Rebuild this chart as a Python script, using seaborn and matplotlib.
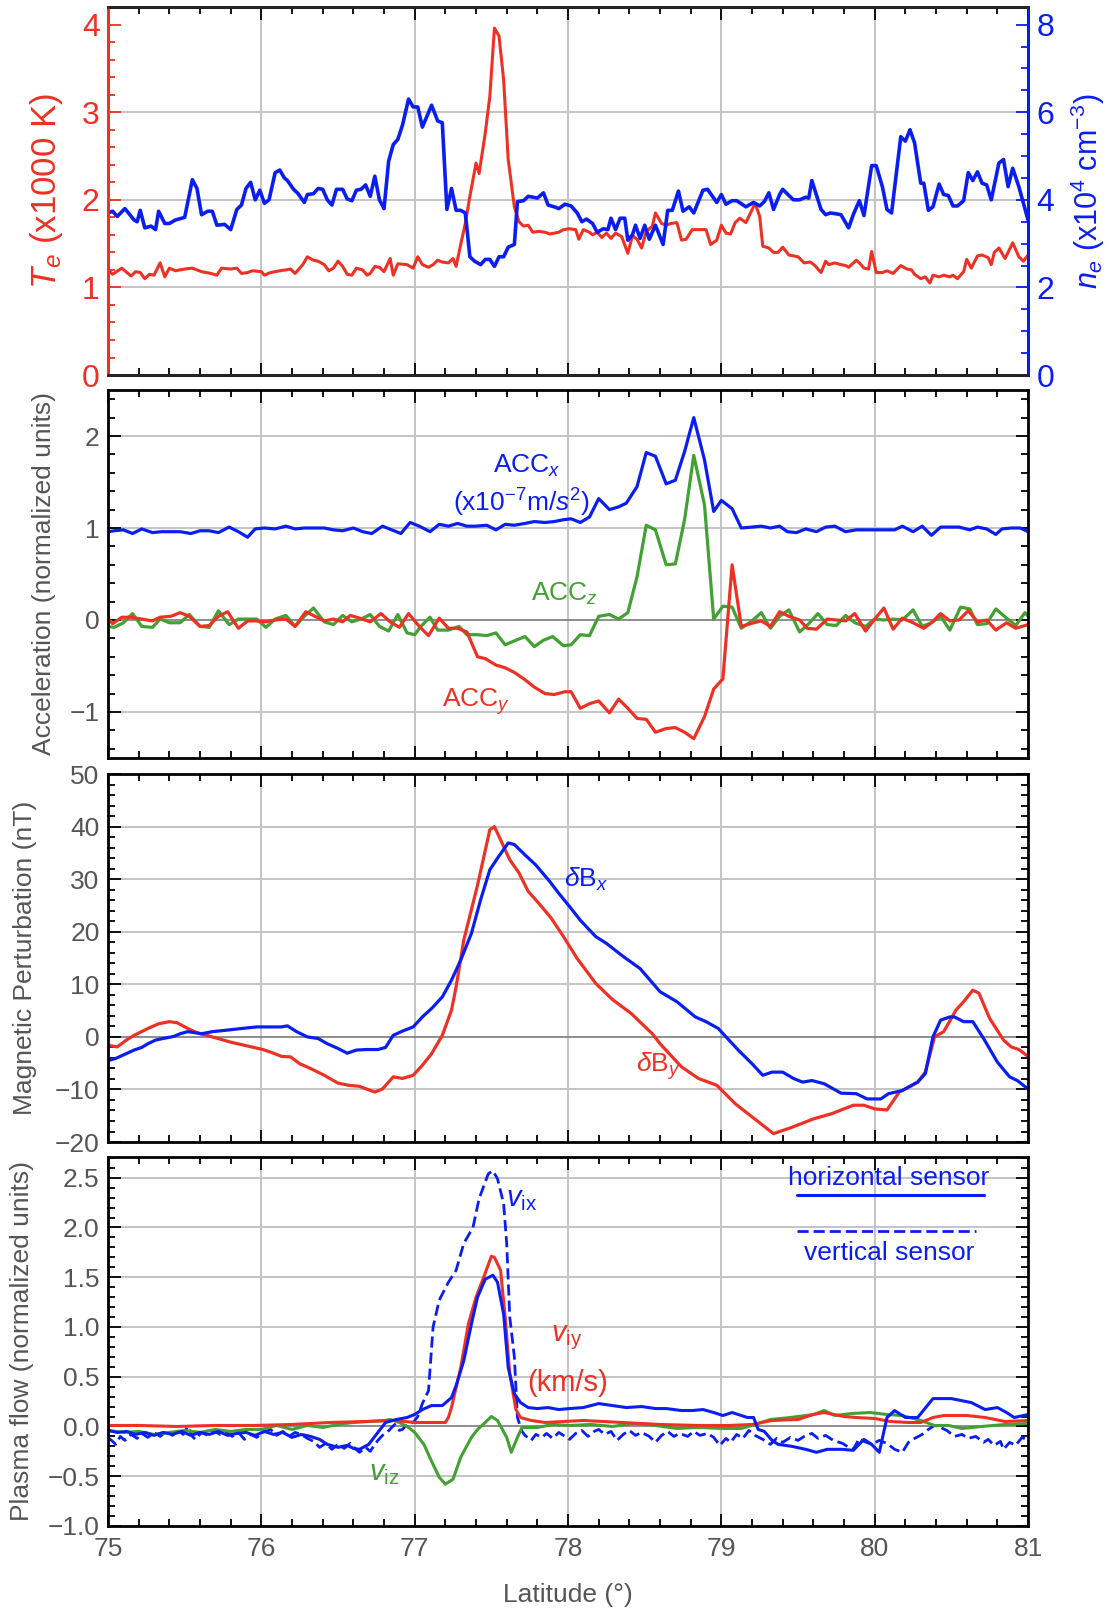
import numpy as np
import seaborn as sns
import matplotlib.pyplot as plt
from matplotlib.ticker import MultipleLocator
from matplotlib.lines import Line2D

# ---------------- data ----------------
te_lat = [75.00, 75.03, 75.09, 75.15, 75.18, 75.21, 75.24, 75.27, 75.30, 75.34, 75.37, 75.40, 75.44, 75.50,
          75.55, 75.61, 75.67, 75.71, 75.74, 75.80, 75.84, 75.87, 75.91, 75.94, 76.00, 76.02, 76.06, 76.12,
          76.16, 76.19, 76.22, 76.27, 76.30, 76.34, 76.37, 76.41, 76.44, 76.47, 76.50, 76.53, 76.56, 76.59,
          76.62, 76.66, 76.69, 76.71, 76.74, 76.77, 76.80, 76.84, 76.86, 76.89, 76.95, 76.99, 77.02, 77.05,
          77.09, 77.12, 77.15, 77.18, 77.22, 77.25, 77.27, 77.30, 77.33, 77.36, 77.40, 77.42, 77.46, 77.49,
          77.52, 77.55, 77.58, 77.61, 77.65, 77.68, 77.71, 77.74, 77.77, 77.81, 77.85, 77.88, 77.94, 77.97,
          78.01, 78.05, 78.07, 78.10, 78.14, 78.16, 78.19, 78.22, 78.25, 78.28, 78.31, 78.35, 78.39, 78.42,
          78.45, 78.48, 78.51, 78.55, 78.57, 78.61, 78.64, 78.67, 78.71, 78.74, 78.77, 78.81, 78.84, 78.90,
          78.93, 78.97, 79.00, 79.03, 79.06, 79.09, 79.12, 79.16, 79.22, 79.25, 79.27, 79.31, 79.34, 79.37,
          79.40, 79.44, 79.47, 79.50, 79.54, 79.58, 79.61, 79.65, 79.68, 79.70, 79.74, 79.78, 79.81, 79.83,
          79.88, 79.90, 79.93, 79.96, 79.98, 80.01, 80.05, 80.08, 80.12, 80.17, 80.21, 80.24, 80.26, 80.30,
          80.33, 80.36, 80.38, 80.42, 80.45, 80.49, 80.51, 80.54, 80.58, 80.60, 80.63, 80.67, 80.70, 80.74,
          80.76, 80.78, 80.81, 80.85, 80.90, 80.94, 80.97, 81.00]
te_val = [1.20, 1.15, 1.22, 1.13, 1.18, 1.17, 1.10, 1.15, 1.14, 1.28, 1.12, 1.22, 1.19, 1.21,
          1.22, 1.18, 1.16, 1.14, 1.22, 1.21, 1.22, 1.16, 1.17, 1.19, 1.18, 1.14, 1.17, 1.19,
          1.20, 1.21, 1.16, 1.26, 1.35, 1.31, 1.30, 1.26, 1.19, 1.22, 1.30, 1.24, 1.15, 1.14,
          1.22, 1.20, 1.14, 1.16, 1.24, 1.23, 1.18, 1.33, 1.14, 1.27, 1.26, 1.22, 1.35, 1.26,
          1.23, 1.26, 1.31, 1.29, 1.28, 1.33, 1.24, 1.49, 1.73, 2.04, 2.42, 2.30, 2.76, 3.18,
          3.96, 3.87, 3.37, 2.46, 1.92, 1.75, 1.70, 1.71, 1.63, 1.64, 1.63, 1.61, 1.63, 1.66,
          1.67, 1.66, 1.55, 1.66, 1.63, 1.60, 1.63, 1.57, 1.62, 1.56, 1.62, 1.58, 1.39, 1.59,
          1.55, 1.45, 1.64, 1.70, 1.85, 1.73, 1.71, 1.73, 1.74, 1.54, 1.55, 1.66, 1.66, 1.66,
          1.49, 1.54, 1.71, 1.62, 1.61, 1.74, 1.79, 1.74, 1.96, 1.81, 1.47, 1.45, 1.40, 1.40,
          1.46, 1.37, 1.36, 1.35, 1.28, 1.29, 1.25, 1.17, 1.30, 1.26, 1.28, 1.26, 1.25, 1.23,
          1.31, 1.28, 1.22, 1.21, 1.41, 1.17, 1.17, 1.19, 1.16, 1.25, 1.21, 1.20, 1.15, 1.10,
          1.12, 1.05, 1.14, 1.12, 1.14, 1.12, 1.14, 1.10, 1.18, 1.32, 1.22, 1.36, 1.37, 1.34,
          1.26, 1.40, 1.45, 1.33, 1.51, 1.35, 1.30, 1.37]

ne_lat = [75.00, 75.03, 75.06, 75.11, 75.17, 75.19, 75.21, 75.24, 75.28, 75.31, 75.33, 75.37, 75.40, 75.44,
          75.50, 75.55, 75.58, 75.61, 75.65, 75.68, 75.71, 75.76, 75.80, 75.84, 75.87, 75.90, 75.93, 75.96,
          75.99, 76.02, 76.05, 76.09, 76.12, 76.15, 76.17, 76.21, 76.24, 76.28, 76.30, 76.34, 76.37, 76.40,
          76.43, 76.46, 76.49, 76.53, 76.56, 76.59, 76.62, 76.65, 76.68, 76.71, 76.74, 76.77, 76.80, 76.83,
          76.86, 76.89, 76.92, 76.96, 76.99, 77.02, 77.05, 77.11, 77.15, 77.18, 77.21, 77.24, 77.27, 77.30,
          77.33, 77.36, 77.39, 77.43, 77.46, 77.49, 77.52, 77.55, 77.58, 77.61, 77.65, 77.67, 77.71, 77.74,
          77.77, 77.80, 77.84, 77.87, 77.91, 77.94, 77.98, 78.02, 78.06, 78.09, 78.12, 78.16, 78.19, 78.23,
          78.26, 78.28, 78.31, 78.34, 78.37, 78.39, 78.42, 78.44, 78.47, 78.50, 78.53, 78.57, 78.60, 78.62,
          78.65, 78.68, 78.72, 78.75, 78.79, 78.82, 78.88, 78.91, 78.97, 79.00, 79.03, 79.07, 79.10, 79.16,
          79.21, 79.25, 79.28, 79.31, 79.34, 79.38, 79.40, 79.44, 79.47, 79.51, 79.55, 79.57, 79.59, 79.65,
          79.68, 79.71, 79.75, 79.78, 79.83, 79.86, 79.90, 79.93, 79.98, 80.01, 80.05, 80.08, 80.11, 80.17,
          80.20, 80.23, 80.26, 80.30, 80.32, 80.35, 80.38, 80.42, 80.45, 80.48, 80.51, 80.54, 80.58, 80.61,
          80.64, 80.67, 80.70, 80.73, 80.76, 80.81, 80.84, 80.87, 80.90, 80.94, 81.00]
ne_val = [3.70, 3.74, 3.62, 3.80, 3.54, 3.50, 3.76, 3.36, 3.40, 3.32, 3.74, 3.46, 3.46, 3.54,
          3.60, 4.46, 4.26, 3.66, 3.74, 3.74, 3.42, 3.44, 3.32, 3.78, 3.88, 4.26, 4.40, 4.00,
          4.22, 3.92, 4.00, 4.62, 4.68, 4.50, 4.44, 4.24, 4.14, 3.94, 4.12, 4.14, 4.26, 4.24,
          4.00, 3.88, 4.24, 4.24, 4.02, 3.98, 4.22, 4.24, 4.34, 4.08, 4.54, 4.00, 3.80, 4.88,
          5.26, 5.38, 5.70, 6.30, 6.12, 6.12, 5.66, 6.16, 5.80, 5.76, 3.78, 4.26, 3.76, 3.76,
          3.70, 2.70, 2.60, 2.52, 2.64, 2.64, 2.48, 2.70, 2.70, 2.92, 2.98, 3.96, 3.98, 4.08,
          4.06, 4.04, 4.16, 3.88, 3.84, 3.80, 3.90, 3.86, 3.70, 3.50, 3.56, 3.46, 3.26, 3.34,
          3.32, 3.58, 3.32, 3.58, 3.58, 3.08, 3.20, 3.42, 3.12, 3.42, 3.10, 3.42, 3.16, 2.98,
          3.76, 3.76, 4.20, 3.74, 3.84, 3.70, 4.22, 4.24, 3.94, 4.12, 3.90, 3.98, 3.98, 3.84,
          3.94, 3.86, 3.96, 4.16, 3.78, 4.12, 4.24, 4.10, 4.00, 4.00, 4.06, 4.04, 4.44, 3.78,
          3.66, 3.70, 3.68, 3.66, 3.36, 3.66, 3.98, 3.64, 4.78, 4.78, 4.30, 3.78, 3.70, 5.44,
          5.34, 5.60, 5.30, 4.38, 4.38, 3.76, 3.84, 4.36, 4.12, 4.10, 3.86, 3.86, 3.98, 4.62,
          4.44, 4.64, 4.38, 4.34, 4.00, 4.84, 4.92, 4.30, 4.72, 4.30, 3.54]

accx_lat = [75.00, 75.04, 75.10, 75.16, 75.22, 75.29, 75.35, 75.42, 75.47, 75.54, 75.60, 75.66, 75.72, 75.79,
            75.85, 75.91, 75.96, 76.02, 76.09, 76.16, 76.22, 76.28, 76.34, 76.41, 76.47, 76.53, 76.60, 76.66,
            76.72, 76.79, 76.85, 76.91, 76.97, 77.03, 77.10, 77.16, 77.22, 77.28, 77.34, 77.40, 77.47, 77.53,
            77.59, 77.65, 77.72, 77.78, 77.85, 77.91, 77.97, 78.02, 78.08, 78.14, 78.20, 78.27, 78.33, 78.38,
            78.45, 78.51, 78.57, 78.64, 78.70, 78.76, 78.82, 78.89, 78.95, 79.00, 79.07, 79.13, 79.20, 79.26,
            79.32, 79.38, 79.43, 79.49, 79.55, 79.62, 79.68, 79.74, 79.81, 79.88, 79.94, 80.00, 80.06, 80.13,
            80.18, 80.25, 80.31, 80.37, 80.43, 80.49, 80.55, 80.62, 80.67, 80.73, 80.79, 80.83, 80.89, 80.95,
            81.00]
accx_val = [0.96, 0.97, 0.98, 0.94, 0.99, 0.95, 0.96, 0.96, 0.96, 0.94, 0.97, 0.97, 0.95, 1.01,
            0.96, 0.90, 0.99, 1.00, 0.99, 1.02, 0.99, 1.00, 1.00, 1.00, 0.98, 0.97, 1.00, 0.96,
            0.94, 1.02, 0.98, 0.94, 1.06, 1.02, 0.96, 1.04, 1.02, 1.05, 1.02, 1.02, 1.03, 0.98,
            1.04, 1.03, 1.05, 1.07, 1.06, 1.07, 1.09, 1.10, 1.06, 1.12, 1.32, 1.20, 1.23, 1.27,
            1.45, 1.82, 1.78, 1.48, 1.52, 1.83, 2.20, 1.74, 1.18, 1.30, 1.21, 1.00, 1.01, 1.02,
            1.00, 1.02, 0.96, 0.95, 0.99, 0.96, 1.01, 1.02, 0.96, 0.98, 0.98, 0.98, 0.98, 0.98,
            1.02, 0.96, 1.02, 0.92, 1.01, 1.01, 1.01, 0.98, 1.01, 0.99, 0.93, 0.99, 1.00, 1.00,
            0.96]

accz_lat = [75.00, 75.04, 75.10, 75.16, 75.22, 75.29, 75.34, 75.40, 75.47, 75.53, 75.60, 75.66, 75.72, 75.79,
            75.85, 75.92, 75.97, 76.03, 76.09, 76.16, 76.22, 76.28, 76.34, 76.41, 76.47, 76.53, 76.59, 76.65,
            76.71, 76.77, 76.83, 76.89, 76.95, 77.00, 77.04, 77.10, 77.15, 77.22, 77.29, 77.34, 77.41, 77.47,
            77.53, 77.59, 77.66, 77.72, 77.78, 77.84, 77.90, 77.97, 78.02, 78.08, 78.14, 78.20, 78.27, 78.33,
            78.39, 78.45, 78.51, 78.57, 78.64, 78.70, 78.76, 78.82, 78.89, 78.95, 79.01, 79.07, 79.13, 79.20,
            79.26, 79.32, 79.38, 79.44, 79.51, 79.57, 79.63, 79.69, 79.75, 79.81, 79.87, 79.94, 80.00, 80.06,
            80.12, 80.18, 80.25, 80.31, 80.37, 80.43, 80.49, 80.56, 80.62, 80.67, 80.73, 80.79, 80.86, 80.92,
            80.98, 81.00]
accz_val = [-0.07, -0.08, -0.03, 0.07, -0.07, -0.08, 0.01, -0.03, -0.03, 0.06, -0.07, -0.08, 0.10, -0.05,
            0.01, 0.01, 0.01, -0.08, 0.01, 0.05, -0.07, 0.04, 0.13, -0.02, -0.05, 0.05, -0.02, 0.01,
            0.06, -0.07, -0.12, 0.06, -0.14, -0.16, -0.07, 0.03, -0.11, -0.11, -0.07, -0.16, -0.16, -0.17,
            -0.14, -0.27, -0.22, -0.18, -0.29, -0.22, -0.18, -0.28, -0.27, -0.16, -0.17, 0.04, 0.06, 0.01,
            0.08, 0.47, 1.03, 0.98, 0.60, 0.61, 1.09, 1.79, 1.25, 0.01, 0.15, 0.14, -0.09, -0.01,
            0.08, -0.09, 0.04, 0.11, -0.13, -0.04, 0.07, -0.05, -0.06, 0.05, -0.03, -0.07, 0.01, 0.00,
            0.01, 0.00, 0.11, -0.07, -0.03, 0.04, -0.11, 0.14, 0.12, -0.05, -0.04, 0.12, 0.02, -0.06,
            0.08, 0.04]

accy_lat = [75.00, 75.03, 75.09, 75.15, 75.22, 75.29, 75.34, 75.41, 75.47, 75.53, 75.60, 75.66, 75.72, 75.78,
            75.85, 75.91, 75.96, 76.03, 76.09, 76.16, 76.22, 76.29, 76.35, 76.41, 76.47, 76.53, 76.58, 76.64,
            76.71, 76.78, 76.84, 76.90, 76.96, 77.03, 77.09, 77.16, 77.22, 77.28, 77.34, 77.41, 77.46, 77.53,
            77.59, 77.65, 77.72, 77.78, 77.85, 77.91, 77.98, 78.02, 78.08, 78.14, 78.20, 78.27, 78.33, 78.39,
            78.45, 78.51, 78.57, 78.64, 78.70, 78.76, 78.82, 78.89, 78.95, 79.01, 79.07, 79.13, 79.19, 79.26,
            79.32, 79.38, 79.44, 79.51, 79.56, 79.62, 79.69, 79.75, 79.81, 79.87, 79.94, 80.00, 80.06, 80.12,
            80.18, 80.25, 80.32, 80.37, 80.43, 80.49, 80.55, 80.61, 80.67, 80.73, 80.79, 80.86, 80.92, 81.00]
accy_val = [0.02, -0.04, 0.03, 0.03, 0.01, -0.01, 0.03, 0.04, 0.08, 0.04, -0.07, -0.06, 0.04, 0.09,
            -0.09, -0.01, -0.01, -0.02, 0.00, 0.01, -0.07, 0.09, 0.04, -0.01, 0.01, -0.02, 0.05, 0.02,
            -0.02, 0.07, -0.02, -0.08, 0.07, -0.07, -0.17, 0.02, -0.09, -0.09, -0.13, -0.40, -0.42, -0.49,
            -0.52, -0.57, -0.65, -0.73, -0.80, -0.81, -0.78, -0.78, -0.96, -0.91, -0.88, -1.01, -0.86, -0.96,
            -1.07, -1.08, -1.22, -1.18, -1.17, -1.22, -1.29, -1.05, -0.75, -0.64, 0.60, -0.07, -0.04, -0.01,
            -0.07, 0.09, 0.04, 0.00, -0.09, -0.10, 0.01, 0.00, -0.01, 0.07, -0.12, 0.01, 0.13, -0.10,
            0.02, -0.03, -0.09, -0.03, 0.07, -0.01, 0.00, 0.10, -0.02, 0.00, -0.11, -0.03, -0.09, -0.05]

bx_lat = [75.00, 75.05, 75.11, 75.17, 75.22, 75.26, 75.31, 75.36, 75.43, 75.47, 75.52, 75.61, 75.68, 75.78,
          75.87, 75.97, 76.06, 76.13, 76.17, 76.23, 76.30, 76.37, 76.43, 76.50, 76.56, 76.62, 76.69, 76.76,
          76.81, 76.86, 76.92, 76.99, 77.05, 77.11, 77.18, 77.24, 77.30, 77.37, 77.43, 77.49, 77.54, 77.61,
          77.65, 77.72, 77.79, 77.88, 77.94, 78.01, 78.08, 78.18, 78.25, 78.36, 78.47, 78.60, 78.71, 78.83,
          78.90, 78.98, 79.04, 79.11, 79.20, 79.27, 79.33, 79.40, 79.47, 79.53, 79.59, 79.67, 79.78, 79.88,
          79.95, 80.04, 80.09, 80.18, 80.28, 80.33, 80.38, 80.43, 80.49, 80.52, 80.58, 80.64, 80.71, 80.80,
          80.88, 80.93, 81.00]
bx_val = [-4.5, -4.1, -3.3, -2.5, -2.0, -1.3, -0.6, -0.3, 0.1, 0.6, 1.0, 0.6, 1.0, 1.3,
          1.6, 1.9, 1.9, 1.9, 2.1, 1.0, 0.0, -0.3, -1.3, -2.2, -3.1, -2.5, -2.4, -2.4,
          -2.0, 0.3, 1.1, 1.9, 3.8, 5.4, 7.6, 10.8, 14.6, 19.7, 26.1, 31.8, 34.0, 36.9,
          36.6, 34.6, 32.7, 29.6, 27.3, 24.8, 22.2, 19.1, 17.8, 15.3, 13.0, 8.6, 6.7, 3.8,
          2.9, 1.6, -0.3, -2.5, -5.1, -7.3, -6.7, -6.7, -7.9, -8.6, -8.3, -8.9, -10.7, -10.8,
          -11.8, -11.8, -10.8, -10.2, -8.6, -7.0, 0.0, 3.2, 3.8, 3.8, 2.9, 2.9, -0.3, -4.8,
          -7.6, -8.3, -9.9]

by_lat = [75.00, 75.06, 75.12, 75.17, 75.26, 75.33, 75.40, 75.45, 75.52, 75.58, 75.68, 75.80, 75.92, 76.01,
          76.08, 76.13, 76.19, 76.25, 76.32, 76.41, 76.50, 76.57, 76.64, 76.74, 76.79, 76.86, 76.92, 76.99,
          77.05, 77.11, 77.18, 77.24, 77.27, 77.32, 77.41, 77.49, 77.52, 77.56, 77.62, 77.68, 77.74, 77.81,
          77.89, 77.97, 78.06, 78.18, 78.29, 78.41, 78.55, 78.60, 78.74, 78.85, 78.97, 79.09, 79.23, 79.34,
          79.46, 79.60, 79.72, 79.86, 79.93, 80.00, 80.08, 80.16, 80.28, 80.33, 80.39, 80.45, 80.53, 80.58,
          80.64, 80.68, 80.75, 80.84, 80.89, 80.94, 81.00]
by_val = [-1.6, -1.9, -0.6, 0.3, 1.6, 2.5, 2.9, 2.7, 1.6, 0.8, 0.0, -1.0, -1.8, -2.4,
          -3.1, -3.7, -3.8, -5.1, -6.0, -7.3, -8.8, -9.2, -9.4, -10.5, -9.9, -7.6, -7.9, -7.3,
          -5.4, -3.2, 0.3, 5.1, 9.5, 18.4, 28.9, 39.4, 40.0, 37.5, 33.7, 31.2, 27.7, 25.4,
          22.6, 19.1, 14.9, 10.2, 7.1, 4.5, 0.6, -1.3, -5.7, -7.9, -9.2, -12.7, -15.9, -18.4,
          -17.2, -15.6, -14.6, -13.0, -13.0, -13.7, -13.9, -10.5, -8.6, -6.7, 0.0, 1.0, 5.1, 6.7,
          8.9, 8.3, 3.5, -0.6, -1.9, -2.4, -3.7]

vix_h_lat = [75.00, 75.06, 75.12, 75.18, 75.24, 75.30, 75.36, 75.42, 75.48, 75.54, 75.60, 75.66, 75.72, 75.78,
             75.84, 75.90, 75.96, 76.02, 76.08, 76.14, 76.20, 76.26, 76.32, 76.38, 76.43, 76.50, 76.56, 76.60,
             76.64, 76.70, 76.75, 76.81, 76.88, 76.95, 77.00, 77.05, 77.11, 77.18, 77.24, 77.27, 77.32, 77.37,
             77.41, 77.46, 77.51, 77.54, 77.58, 77.61, 77.65, 77.69, 77.74, 77.80, 77.87, 77.94, 78.01, 78.10,
             78.20, 78.29, 78.38, 78.48, 78.57, 78.64, 78.74, 78.81, 78.88, 78.95, 79.01, 79.07, 79.13, 79.17,
             79.21, 79.24, 79.28, 79.33, 79.37, 79.46, 79.55, 79.62, 79.69, 79.79, 79.86, 79.93, 79.98, 80.03,
             80.08, 80.13, 80.20, 80.28, 80.38, 80.50, 80.63, 80.72, 80.80, 80.86, 80.91, 81.00]
vix_h_val = [-0.04, -0.06, -0.05, -0.08, -0.06, -0.09, -0.06, -0.08, -0.05, -0.09, -0.06, -0.08, -0.05, -0.09,
             -0.07, -0.06, -0.09, -0.05, -0.08, -0.06, -0.11, -0.08, -0.10, -0.13, -0.18, -0.21, -0.19, -0.22,
             -0.23, -0.18, -0.08, 0.04, 0.07, 0.09, 0.12, 0.17, 0.21, 0.21, 0.29, 0.41, 0.66, 1.03,
             1.30, 1.48, 1.52, 1.45, 1.13, 0.59, 0.33, 0.24, 0.19, 0.18, 0.19, 0.17, 0.18, 0.19,
             0.23, 0.21, 0.19, 0.20, 0.18, 0.18, 0.16, 0.16, 0.17, 0.14, 0.11, 0.14, 0.11, 0.09,
             0.09, -0.03, -0.05, -0.14, -0.18, -0.20, -0.23, -0.26, -0.23, -0.23, -0.24, -0.13, -0.18, -0.26,
             0.09, 0.16, 0.09, 0.09, 0.28, 0.28, 0.24, 0.17, 0.19, 0.14, 0.09, 0.12]

vix_v_lat = [75.00, 75.03, 75.05, 75.08, 75.11, 75.15, 75.19, 75.22, 75.26, 75.30, 75.34, 75.38, 75.42, 75.46,
             75.49, 75.52, 75.55, 75.57, 75.61, 75.65, 75.69, 75.73, 75.77, 75.81, 75.85, 75.89, 75.93, 75.97,
             76.01, 76.06, 76.10, 76.14, 76.18, 76.22, 76.26, 76.30, 76.34, 76.38, 76.42, 76.46, 76.50, 76.54,
             76.58, 76.61, 76.64, 76.68, 76.71, 76.74, 76.76, 76.79, 76.82, 76.85, 76.87, 76.90, 76.92, 76.95,
             76.99, 77.02, 77.05, 77.09, 77.12, 77.16, 77.22, 77.27, 77.32, 77.38, 77.42, 77.48, 77.51, 77.54,
             77.58, 77.60, 77.62, 77.65, 77.67, 77.70, 77.72, 77.76, 77.79, 77.83, 77.86, 77.90, 77.94, 77.97,
             78.01, 78.05, 78.09, 78.13, 78.17, 78.20, 78.24, 78.28, 78.32, 78.36, 78.40, 78.44, 78.48, 78.53,
             78.57, 78.61, 78.65, 78.69, 78.73, 78.78, 78.82, 78.86, 78.91, 78.95, 78.99, 79.03, 79.06, 79.10,
             79.14, 79.18, 79.22, 79.27, 79.32, 79.36, 79.40, 79.45, 79.50, 79.54, 79.59, 79.63, 79.68, 79.73,
             79.79, 79.83, 79.86, 79.90, 79.93, 79.98, 80.03, 80.08, 80.13, 80.18, 80.22, 80.26, 80.31, 80.35,
             80.39, 80.43, 80.47, 80.52, 80.57, 80.61, 80.66, 80.71, 80.74, 80.78, 80.82, 80.84, 80.88, 80.92,
             80.96, 81.00]
vix_v_val = [-0.11, -0.15, -0.18, -0.10, -0.14, -0.08, -0.12, -0.07, -0.11, -0.06, -0.10, -0.05, -0.09, -0.04,
             -0.08, 0.00, -0.10, -0.13, -0.06, -0.09, -0.04, -0.08, -0.05, -0.10, -0.06, -0.13, -0.08, -0.11,
             -0.06, -0.03, -0.09, -0.05, -0.10, -0.06, -0.08, -0.12, -0.15, -0.21, -0.17, -0.23, -0.18, -0.22,
             -0.17, -0.22, -0.26, -0.21, -0.25, -0.18, -0.14, -0.09, -0.06, -0.01, 0.02, -0.04, -0.03, 0.02,
             0.04, 0.10, 0.23, 0.36, 1.00, 1.27, 1.45, 1.57, 1.84, 2.00, 2.29, 2.54, 2.57, 2.49,
             2.24, 1.84, 1.10, 0.70, 0.09, -0.05, -0.09, -0.14, -0.08, -0.11, -0.07, -0.12, -0.06, -0.09,
             -0.13, -0.07, -0.04, -0.10, -0.05, -0.03, -0.08, -0.05, -0.14, -0.08, -0.04, -0.09, -0.06, -0.10,
             -0.16, -0.09, -0.05, -0.10, -0.07, -0.10, -0.05, -0.09, -0.07, -0.11, -0.19, -0.12, -0.16, -0.08,
             -0.12, -0.04, -0.09, -0.13, -0.18, -0.12, -0.16, -0.11, -0.14, -0.10, -0.07, -0.12, -0.09, -0.14,
             -0.17, -0.21, -0.23, -0.12, -0.15, -0.18, -0.14, -0.17, -0.23, -0.26, -0.16, -0.12, -0.08, -0.03,
             0.01, -0.01, -0.04, -0.10, -0.08, -0.12, -0.10, -0.16, -0.13, -0.19, -0.15, -0.23, -0.16, -0.19,
             -0.11, -0.14]

viy_lat = [75.00, 75.20, 75.45, 75.70, 75.95, 76.20, 76.45, 76.68, 76.87, 77.00, 77.12, 77.20, 77.22, 77.24,
           77.30, 77.35, 77.40, 77.45, 77.50, 77.52, 77.56, 77.59, 77.62, 77.66, 77.69, 77.76, 77.85, 78.10,
           78.35, 78.60, 78.85, 79.05, 79.20, 79.33, 79.50, 79.60, 79.67, 79.80, 79.88, 80.00, 80.10, 80.22,
           80.30, 80.38, 80.45, 80.60, 80.72, 80.85, 81.00]
viy_val = [0.01, 0.01, 0.00, 0.01, 0.01, 0.02, 0.04, 0.05, 0.06, 0.04, 0.04, 0.04, 0.09, 0.19,
           0.59, 1.03, 1.30, 1.50, 1.71, 1.70, 1.57, 1.10, 0.53, 0.17, 0.09, 0.06, 0.04, 0.06,
           0.04, 0.02, 0.01, 0.01, 0.02, 0.06, 0.07, 0.12, 0.14, 0.10, 0.09, 0.08, 0.05, 0.04,
           0.04, 0.09, 0.11, 0.11, 0.09, 0.05, 0.06]

viz_lat = [75.00, 75.10, 75.20, 75.30, 75.40, 75.50, 75.60, 75.70, 75.80, 75.90, 76.00, 76.10, 76.20, 76.30,
           76.40, 76.50, 76.60, 76.70, 76.80, 76.84, 76.90, 76.96, 77.00, 77.06, 77.11, 77.16, 77.20, 77.25,
           77.30, 77.37, 77.41, 77.46, 77.50, 77.54, 77.60, 77.63, 77.67, 77.70, 77.80, 77.90, 78.01, 78.15,
           78.29, 78.43, 78.57, 78.71, 78.85, 79.00, 79.13, 79.22, 79.32, 79.45, 79.60, 79.67, 79.74, 79.85,
           79.97, 80.08, 80.18, 80.30, 80.39, 80.48, 80.57, 80.70, 80.85, 81.00]
viz_val = [-0.04, -0.06, -0.05, -0.08, -0.06, -0.04, -0.06, -0.03, -0.05, -0.03, -0.03, 0.01, -0.03, 0.01,
           -0.01, 0.02, 0.04, 0.05, 0.06, 0.07, 0.04, -0.01, -0.06, -0.18, -0.35, -0.51, -0.58, -0.53,
           -0.31, -0.11, -0.03, 0.04, 0.10, 0.06, -0.11, -0.26, -0.11, -0.01, -0.01, 0.02, 0.01, 0.02,
           0.00, 0.03, 0.01, -0.02, -0.01, -0.02, -0.02, 0.02, 0.07, 0.09, 0.12, 0.16, 0.11, 0.13,
           0.14, 0.12, 0.11, 0.06, 0.01, 0.01, -0.02, 0.00, 0.02, 0.03]

lat_ticks = [75, 76, 77, 78, 79, 80, 81]

# ---------------- style ----------------
RED = '#ee3124'
BLUE = '#0a1ef2'
GREEN = '#42a132'
GRID = '#c4c4c4'
ZERO = '#7a7a7a'
TXT = '#555555'

sns.set_style("ticks")
plt.rcParams['font.family'] = ['Liberation Sans', 'DejaVu Sans']
plt.rcParams['mathtext.fontset'] = 'custom'
plt.rcParams['mathtext.rm'] = 'Liberation Sans'
plt.rcParams['mathtext.it'] = 'Liberation Sans:italic'
plt.rcParams['mathtext.bf'] = 'Liberation Sans:bold'

fig = plt.figure(figsize=(11.09, 16.11), dpi=100)
L, W = 0.0974, 0.8296
ax1 = fig.add_axes([L, 0.7672, W, 0.2284])
ax2 = fig.add_axes([L, 0.5295, W, 0.2284])
ax3 = fig.add_axes([L, 0.2911, W, 0.2284])
ax4 = fig.add_axes([L, 0.0528, W, 0.2291])


def frame(ax, ylo, yhi, ymaj, ymin, hgrid, zero=True, fs=19):
    ax.set_xlim(75, 81)
    ax.set_ylim(ylo, yhi)
    ax.xaxis.set_major_locator(MultipleLocator(1))
    ax.xaxis.set_minor_locator(MultipleLocator(0.2))
    ax.yaxis.set_major_locator(MultipleLocator(ymaj))
    ax.yaxis.set_minor_locator(MultipleLocator(ymin))
    ax.tick_params(which='both', direction='in', top=True, right=True, color='black', width=1.3)
    ax.tick_params(which='major', length=9, labelsize=fs, labelcolor=TXT, pad=6)
    ax.tick_params(which='minor', length=5)
    ax.tick_params(axis='x', labelbottom=False)
    for s in ax.spines.values():
        s.set_linewidth(2)
        s.set_color('black')
    for g in lat_ticks[1:-1]:
        ax.axvline(g, color=GRID, lw=1.4, zorder=0)
    for g in hgrid:
        ax.axhline(g, color=GRID, lw=1.4, zorder=0)
    if zero:
        ax.axhline(0, color=ZERO, lw=1.2, zorder=0.5)


# ---- panel 1: Te and ne ----
frame(ax1, 0, 4.2, 1, 0.2, [1, 2, 3], zero=False, fs=23)
ax1.tick_params(which='both', right=False)
ax1.tick_params(axis='y', which='both', color=RED, labelcolor=RED)
ax1.spines['left'].set_color(RED)
ax1r = ax1.twinx()
ax1r.set_ylim(0, 8.4)
ax1r.yaxis.set_major_locator(MultipleLocator(2))
ax1r.yaxis.set_minor_locator(MultipleLocator(0.5))
ax1r.tick_params(which='both', direction='in', color=BLUE, width=1.3)
ax1r.tick_params(which='major', length=9, labelsize=23, labelcolor=BLUE, pad=6)
ax1r.tick_params(which='minor', length=5)
for k, s in ax1r.spines.items():
    s.set_linewidth(2)
ax1r.spines['right'].set_color(BLUE)
ax1r.spines['left'].set_color(RED)

sns.lineplot(x=te_lat, y=te_val, ax=ax1, color=RED, linewidth=2.2, estimator=None, sort=False, zorder=3)
sns.lineplot(x=ne_lat, y=ne_val, ax=ax1r, color=BLUE, linewidth=2.6, estimator=None, sort=False)
ax1.set_ylabel(r'$T_e$ (x1000 K)', color=RED, fontsize=25)
ax1.yaxis.set_label_coords(-0.047, 0.5)
ax1r.set_ylabel(r'$n_e$ (x10$^4$ cm$^{-3}$)', color=BLUE, fontsize=22, rotation=90)
ax1r.yaxis.set_label_coords(1.044, 0.5)
ax1.set_xlabel('')

# ---- panel 2: acceleration ----
frame(ax2, -1.5, 2.5, 1, 0.2, [-1, 1, 2])
sns.lineplot(x=accz_lat, y=accz_val, ax=ax2, color=GREEN, linewidth=2.3, estimator=None, sort=False)
sns.lineplot(x=accy_lat, y=accy_val, ax=ax2, color=RED, linewidth=2.3, estimator=None, sort=False)
sns.lineplot(x=accx_lat, y=accx_val, ax=ax2, color=BLUE, linewidth=2.3, estimator=None, sort=False)
ax2.set_ylabel('Acceleration (normalized units)', color=TXT, fontsize=19)
ax2.yaxis.set_label_coords(-0.057, 0.5)
ax2.text(77.73, 1.68, r'ACC$_x$', color=BLUE, fontsize=19, ha='center', va='center')
ax2.text(77.70, 1.27, r'(x10$^{-7}$m/$s^2$)', color=BLUE, fontsize=19, ha='center', va='center')
ax2.text(77.98, 0.28, r'ACC$_z$', color=GREEN, fontsize=19, ha='center', va='center')
ax2.text(77.40, -0.89, r'ACC$_y$', color=RED, fontsize=19, ha='center', va='center')

# ---- panel 3: magnetic perturbation ----
frame(ax3, -20, 50, 10, 2, [-10, 10, 20, 30, 40])
sns.lineplot(x=by_lat, y=by_val, ax=ax3, color=RED, linewidth=2.3, estimator=None, sort=False)
sns.lineplot(x=bx_lat, y=bx_val, ax=ax3, color=BLUE, linewidth=2.3, estimator=None, sort=False)
ax3.set_ylabel('Magnetic Perturbation (nT)', color=TXT, fontsize=19)
ax3.yaxis.set_label_coords(-0.077, 0.5)
ax3.text(78.12, 30.0, r'$\delta$B$_x$', color=BLUE, fontsize=19, ha='center', va='center')
ax3.text(78.59, -5.5, r'$\delta$B$_y$', color=RED, fontsize=19, ha='center', va='center')

# ---- panel 4: plasma flow ----
frame(ax4, -1.0, 2.71, 0.5, 0.1, [-0.5, 0.5, 1.0, 1.5, 2.0, 2.5])
ax4.tick_params(axis='x', labelbottom=True, pad=8)
ax4.set_xticks(lat_ticks)
sns.lineplot(x=vix_v_lat, y=vix_v_val, ax=ax4, color=BLUE, linewidth=2.0, estimator=None, sort=False,
             dashes=False, linestyle=(0, (4, 1.8)))
sns.lineplot(x=viz_lat, y=viz_val, ax=ax4, color=GREEN, linewidth=2.2, estimator=None, sort=False)
sns.lineplot(x=viy_lat, y=viy_val, ax=ax4, color=RED, linewidth=2.2, estimator=None, sort=False)
sns.lineplot(x=vix_h_lat, y=vix_h_val, ax=ax4, color=BLUE, linewidth=2.2, estimator=None, sort=False)
ax4.set_ylabel('Plasma flow (normalized units)', color=TXT, fontsize=19)
ax4.yaxis.set_label_coords(-0.080, 0.5)
ax4.set_xlabel('Latitude (°)', color=TXT, fontsize=19, labelpad=16)
ax4.text(77.70, 2.29, r'$v_{\rm ix}$', color=BLUE, fontsize=21, ha='center', va='center')
ax4.text(77.99, 0.89, r'$v_{\rm iy}$', color=RED, fontsize=21, ha='center', va='center')
ax4.text(78.00, 0.44, '(km/s)', color=RED, fontsize=21, ha='center', va='center')
ax4.text(76.80, -0.47, r'$v_{\rm iz}$', color=GREEN, fontsize=21, ha='center', va='center')

# sensor key
ax4.text(0.849, 0.943, 'horizontal sensor', color=BLUE, fontsize=19, ha='center', va='center',
         transform=ax4.transAxes)
ax4.add_line(Line2D([0.749, 0.952], [0.897, 0.897], color=BLUE, lw=2.2, transform=ax4.transAxes))
ax4.add_line(Line2D([0.749, 0.943], [0.799, 0.799], color=BLUE, lw=2.0, linestyle=(0, (4, 1.8)),
                    transform=ax4.transAxes))
ax4.text(0.849, 0.740, 'vertical sensor', color=BLUE, fontsize=19, ha='center', va='center',
         transform=ax4.transAxes)

for ax in (ax1, ax2, ax3):
    ax.set_xlabel('')

fig.savefig('out.png', dpi=100)
